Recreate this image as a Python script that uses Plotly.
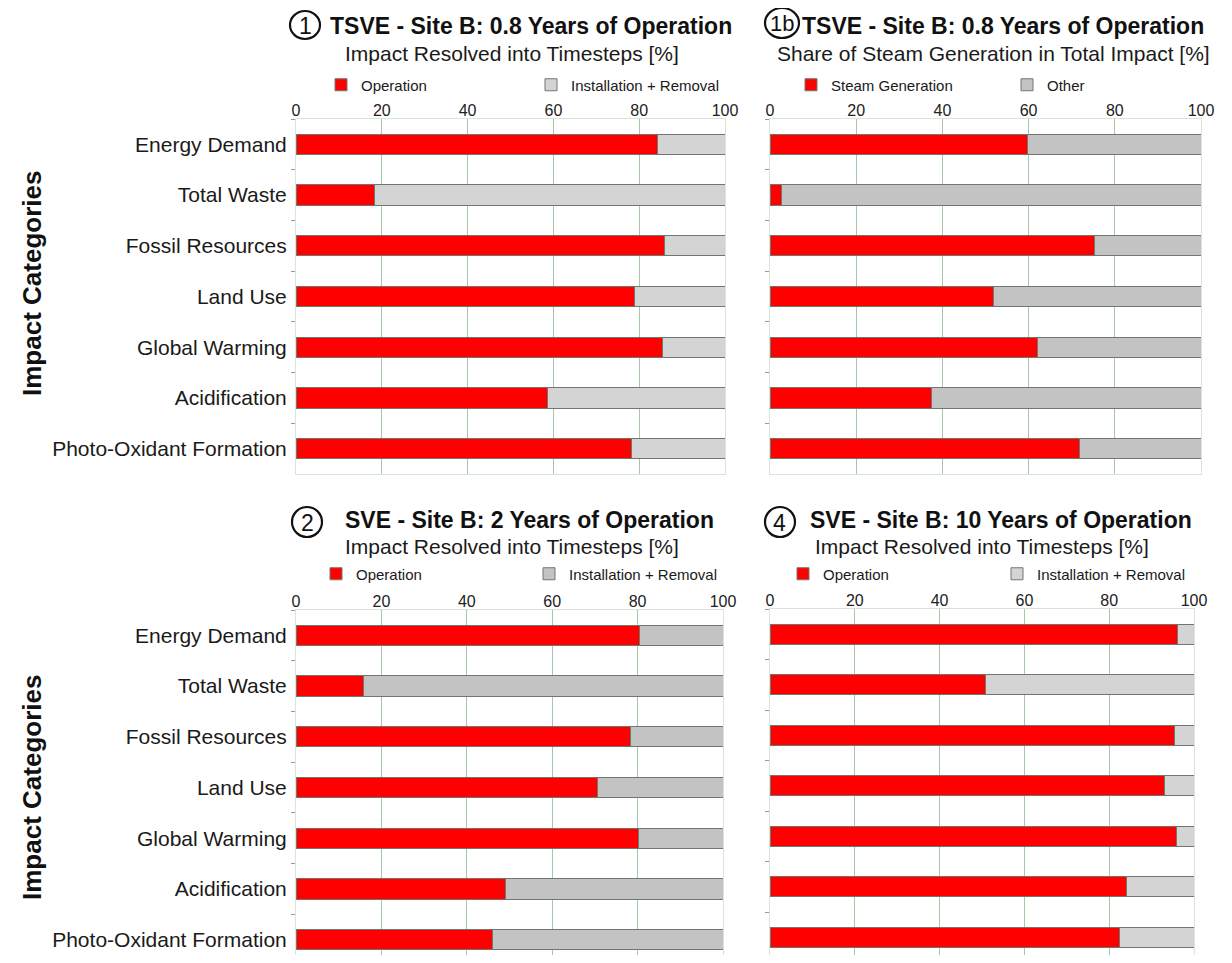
import plotly.graph_objects as go

# figure fits inside the page's default 8px body margin
W, H = 1216, 947
OFF = 8

categories = ["Energy Demand", "Total Waste", "Fossil Resources", "Land Use",
              "Global Warming", "Acidification", "Photo-Oxidant Formation"]

# Panel 1: TSVE 0.8 years, impact resolved into timesteps
p1_operation = [84.2, 18.4, 86.0, 78.9, 85.5, 58.6, 78.3]
p1_install = [100 - v for v in p1_operation]
# Panel 1b: share of steam generation
p1b_steam = [59.7, 2.6, 75.4, 51.9, 62.1, 37.5, 71.9]
p1b_other = [100 - v for v in p1b_steam]
# Panel 2: SVE 2 years
p2_operation = [80.5, 15.7, 78.3, 70.5, 80.1, 49.1, 46.1]
p2_install = [100 - v for v in p2_operation]
# Panel 4: SVE 10 years
p4_operation = [96.0, 50.8, 95.4, 93.0, 95.9, 84.1, 82.5]
p4_install = [100 - v for v in p4_operation]

x_ticks = [0, 20, 40, 60, 80, 100]

FONT = "Liberation Sans, Arial, sans-serif"
RED = "#ff0000"
GRAY_LIGHT = "#d4d4d4"
GRAY_DARK = "#c3c3c3"
EDGE = "#6e786e"
GRID = "#a8c6a8"
AXLINE = "#d8e6d8"


def px(x):
    return (x - OFF) / W


def py(y):
    return 1 - (y - OFF) / H


fig = go.Figure()

panels = [
    ("x", "y", "legend", p1_operation, p1_install, "Operation", "Installation + Removal", GRAY_LIGHT),
    ("x2", "y2", "legend2", p1b_steam, p1b_other, "Steam Generation", "Other", GRAY_DARK),
    ("x3", "y3", "legend3", p2_operation, p2_install, "Operation", "Installation + Removal", GRAY_DARK),
    ("x4", "y4", "legend4", p4_operation, p4_install, "Operation", "Installation + Removal", GRAY_LIGHT),
]

for xa, ya, lg, red_vals, gray_vals, rname, gname, gcol in panels:
    fig.add_trace(go.Bar(y=categories, x=red_vals, orientation="h", name=rname,
                         marker=dict(color=RED, line=dict(color=EDGE, width=1)),
                         xaxis=xa, yaxis=ya, legend=lg, hoverinfo="x+y"))
    fig.add_trace(go.Bar(y=categories, x=gray_vals, orientation="h", name=gname,
                         marker=dict(color=gcol, line=dict(color=EDGE, width=1)),
                         xaxis=xa, yaxis=ya, legend=lg, hoverinfo="x+y"))

# plot area boxes in reference pixels (left, right, top, bottom) and y range
boxes = {
    "1": (296, 725, 119, 474, [6.5, -0.5]),
    "2": (770, 1201, 119, 474, [6.5, -0.5]),
    "3": (296, 723, 610, 955, [6.3, -0.5]),
    "4": (770, 1194, 609, 955, [6.35, -0.5]),
}

layout = dict(
    width=W, height=H,
    margin=dict(l=0, r=0, t=0, b=0, autoexpand=False),
    paper_bgcolor="white", plot_bgcolor="white",
    barmode="stack", bargap=0.6,
    font=dict(family=FONT, color="#111111"),
)

for i, key in enumerate(["1", "2", "3", "4"]):
    l, r, t, b, yr = boxes[key]
    sfx = "" if i == 0 else str(i + 1)
    layout["xaxis" + sfx] = dict(
        domain=[px(l), px(r)], anchor="y" + sfx, side="top", range=[0, 100],
        tickvals=x_ticks, showgrid=True, gridcolor=GRID, gridwidth=1,
        showline=True, linecolor=AXLINE, mirror=(key in ("1", "2")), zeroline=False,
        ticks="", ticklabelstandoff=-4, automargin=False,
        tickfont=dict(size=16, color="#222222"), fixedrange=True,
    )
    layout["yaxis" + sfx] = dict(
        domain=[max(py(b), 0), py(t)], anchor="x" + sfx, type="category",
        categoryorder="array", categoryarray=categories, range=yr,
        tickson="boundaries", ticks="outside", ticklen=4, tickcolor="#9a9a9a",
        showline=True, linecolor=AXLINE, mirror=True, showgrid=False,
        showticklabels=(key in ("1", "3")), ticklabelstandoff=4, automargin=False,
        tickfont=dict(size=21, color="#1a1a1a"), fixedrange=True,
    )

# legends: (symbol center x, center y, spacing between entries) in reference pixels
legend_pos = {
    "legend": (342, 85, 212),
    "legend2": (812, 85, 218),
    "legend3": (337, 574, 215),
    "legend4": (804, 574, 216),
}
for name, (lx, ly, ew) in legend_pos.items():
    layout[name] = dict(
        orientation="h", x=px(lx - 21), y=py(ly), xanchor="left", yanchor="middle",
        xref="paper", yref="paper", traceorder="normal",
        entrywidth=ew - 47, entrywidthmode="pixels",
        font=dict(size=15, color="#1a1a1a"), bgcolor="rgba(0,0,0,0)",
        itemclick=False, itemdoubleclick=False, tracegroupgap=0,
    )

annotations = []
shapes = []

titles = [
    ("TSVE - Site B: 0.8 Years of Operation", 328, 26, "Impact Resolved into Timesteps [%]", 343, 53),
    ("TSVE - Site B: 0.8 Years of Operation", 800, 26, "Share of Steam Generation in Total Impact [%]", 775, 53),
    ("SVE - Site B: 2 Years of Operation", 343, 520, "Impact Resolved into Timesteps [%]", 343, 546),
    ("SVE - Site B: 10 Years of Operation", 808, 520, "Impact Resolved into Timesteps [%]", 813, 546),
]
for t, tx, ty, s, sx, sy in titles:
    annotations.append(dict(text="<b>" + t + "</b>", x=px(tx), y=py(ty), xref="paper", yref="paper",
                            xanchor="left", yanchor="middle", showarrow=False,
                            font=dict(size=23, color="#111111", family=FONT)))
    annotations.append(dict(text=s, x=px(sx), y=py(sy), xref="paper", yref="paper",
                            xanchor="left", yanchor="middle", showarrow=False,
                            font=dict(size=21, color="#1a1a1a", family=FONT)))

circles = [("1", 305, 25, 15, 14, 23), ("1b", 782, 23, 17, 15, 22),
           ("2", 307, 522, 15, 15, 23), ("4", 780, 522, 15, 15, 23)]
for lab, cx, cy, rx, ry, fs in circles:
    shapes.append(dict(type="circle", xref="paper", yref="paper",
                       x0=px(cx - rx), x1=px(cx + rx), y0=py(cy + ry), y1=py(cy - ry),
                       line=dict(color="#111111", width=2.2)))
    annotations.append(dict(text=lab, x=px(cx), y=py(cy + 1), xref="paper", yref="paper",
                            xanchor="center", yanchor="middle", showarrow=False,
                            font=dict(size=fs, color="#111111", family=FONT)))

for cy in (284, 788):
    annotations.append(dict(text="<b>Impact Categories</b>", x=px(32), y=py(cy), xref="paper", yref="paper",
                            xanchor="center", yanchor="middle", textangle=-90, showarrow=False,
                            font=dict(size=26, color="#111111", family=FONT)))

layout["annotations"] = annotations
layout["shapes"] = shapes
fig.update_layout(**layout)

fig.write_html("out.html", config={"displayModeBar": False})
